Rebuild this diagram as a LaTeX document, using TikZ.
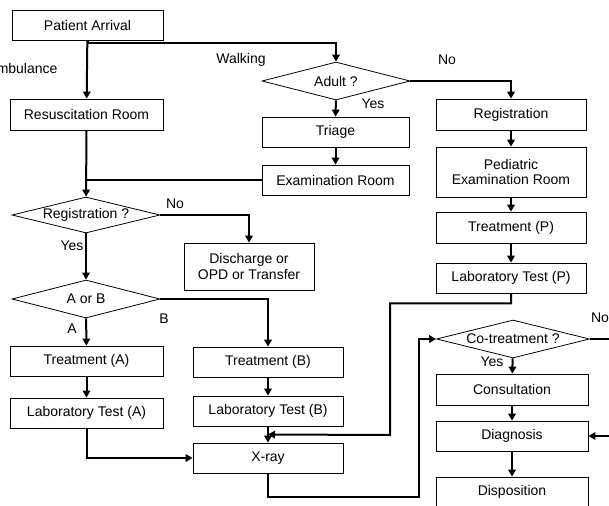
\documentclass[tikz,border=0pt]{standalone}
\usepackage{fontspec}
\setmainfont{Liberation Sans}
\usepackage{tikz}
\usetikzlibrary{arrows.meta, shapes.geometric, calc}

\begin{document}
\begin{tikzpicture}[x=1pt, y=-1pt,
    every node/.style={font=\fontsize{14}{15.5}\selectfont},
    box/.style={draw, line width=0.8pt, inner sep=0pt, minimum height=30pt, align=center},
    decision/.style={diamond, draw, line width=0.8pt, inner sep=0pt, aspect=4},
    conn/.style={line width=2pt},
    arr/.style={conn, -{Triangle[length=7pt,width=7.5pt]}}]
    \useasboundingbox (0,0) rectangle (609,505);

    % left column
    \node[box, minimum width=151pt] (arrival) at (87.5,25) {Patient Arrival};
    \node[box, minimum width=153pt, minimum height=31pt] (resus) at (86.5,114.5) {Resuscitation Room};
    \node[decision, minimum width=148pt, minimum height=36pt] (regq) at (86,215) {Registration ?};
    \node[decision, minimum width=148pt, minimum height=38pt] (aorb) at (86,299) {A or B};
    \node[box, minimum width=153pt] (treata) at (86.5,361) {Treatment (A)};
    \node[box, minimum width=153pt] (laba) at (86.5,413) {Laboratory Test (A)};

    % middle column
    \node[decision, minimum width=148pt, minimum height=38pt] (adult) at (336,81) {Adult ?};
    \node[box, minimum width=147pt] (triage) at (335.5,132) {Triage};
    \node[box, minimum width=147pt] (exam) at (335.5,180) {Examination Room};
    \node[box, minimum width=130pt, minimum height=47pt] (discharge) at (249,266.5) {Discharge or\\OPD or Transfer};
    \node[box, minimum width=150pt] (treatb) at (268,362) {Treatment (B)};
    \node[box, minimum width=150pt] (labb) at (268,411) {Laboratory Test (B)};
    \node[box, minimum width=150pt] (xray) at (268,458) {X-ray};

    % right column
    \node[box, minimum width=150pt, minimum height=31pt] (regp) at (511,114.5) {Registration};
    \node[box, minimum width=150pt, minimum height=50pt] (pedexam) at (511,172) {Pediatric\\Examination Room};
    \node[box, minimum width=150pt, minimum height=31pt] (treatp) at (511,227.5) {Treatment (P)};
    \node[box, minimum width=150pt] (labp) at (511,278) {Laboratory Test (P)};
    \node[decision, minimum width=153pt, minimum height=38pt] (cotreat) at (513,339) {Co-treatment ?};
    \node[box, minimum width=152pt, minimum height=31pt] (consult) at (512,389.5) {Consultation};
    \node[box, minimum width=152pt] (diag) at (512,436) {Diagnosis};
    \node[box, minimum width=152pt] (dispo) at (512,492) {Disposition};

    \coordinate (merge) at ($(labb.south)!0.5!(xray.north)$);
    \coordinate (offright) at (609,339);
    \coordinate (inright) at (609,436);

    % labels
    \node[anchor=east] (lamb) at (61,68) {Ambulance};
    \node (lwalk) at (241,60) {Walking};
    \node (lno1) at (447,60) {No};
    \node (lyes1) at (373,104) {Yes};
    \node (lno2) at (175,204) {No};
    \node (lyes2) at (72,246) {Yes};
    \node (la) at (72,329) {A};
    \node (lb) at (164,319) {B};
    \node (lno3) at (600,318) {No};
    \node (lyes3) at (492,362) {Yes};

    % connectors
    \foreach \from/\to in {arrival/resus, resus/regq, regq/aorb, aorb/treata, treata/laba,
        adult/triage, triage/exam, regp/pedexam, pedexam/treatp, treatp/labp,
        treatb/labb, labb/xray, cotreat/consult, consult/diag, diag/dispo}
        \draw[arr] (\from) -- (\to);
    \draw[arr] (arrival.south) -- ++(0,3) -| (adult.north);
    \draw[arr] (adult.east) -| (regp.north);
    \draw[conn] (exam.west) -- (exam.west -| resus.south);
    \draw[arr] (regq.east) -| (discharge.north);
    \draw[arr] (aorb.east) -| (treatb.north);
    \draw[arr] (laba.south) |- (xray.west);
    \draw[arr] (labp.south) -- ++(0,10) -| (390,435) -- (merge);
    \draw[arr] (xray.south) -- ++(0,24) -| ($(cotreat.west)+(-17,0)$) -- (cotreat.west);
    \draw[conn] (cotreat.east) -- (offright);
    \draw[arr] (inright) -- (diag.east);
\end{tikzpicture}
\end{document}
